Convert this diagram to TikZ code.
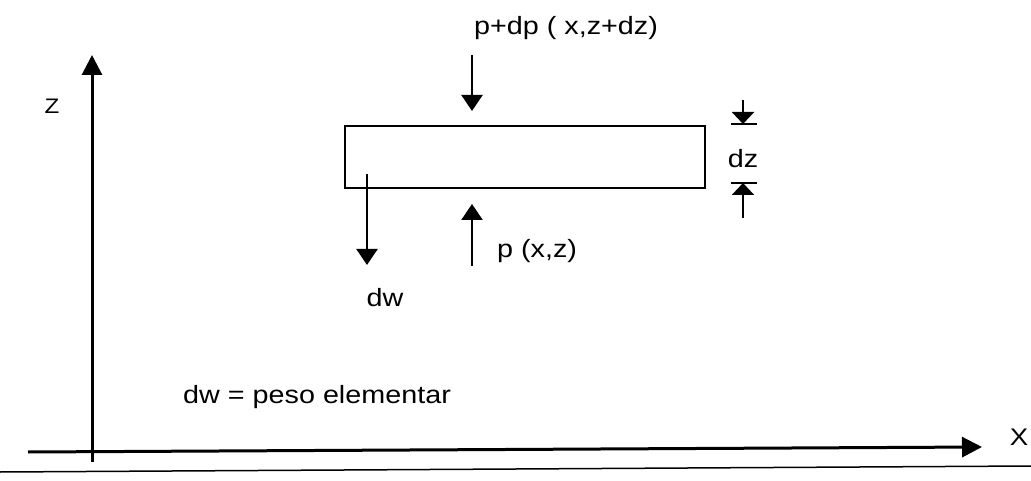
\documentclass[tikz,border=0pt]{standalone}
\usepackage{fontspec}
\setmainfont{Liberation Sans}[FakeStretch=1.15]
\usetikzlibrary{positioning, arrows.meta}

\begin{document}
\begin{tikzpicture}[
  x=1pt, y=-1pt,
  node distance=8pt and 10pt,
  axisLine/.style={line width=3pt, -{Triangle[length=20pt, width=20pt]}},
  forceArrow/.style={line width=2.2pt, -{Triangle[length=16pt, width=21pt]}},
  dzArrow/.style={line width=2.2pt, -{Triangle[length=12pt, width=22pt]}},
  dzTick/.style={line width=2.2pt},
  elemBox/.style={draw, line width=2.2pt, minimum width=360pt, minimum height=62pt, inner sep=0pt},
  txtLabel/.style={font=\fontsize{25}{30}\selectfont, inner sep=0pt}
]
\useasboundingbox (0,0) rectangle (1031,481);

% Axes
\coordinate (zBottom) at (92,462);
\coordinate (zTop) at (92,55);
\coordinate (xLeft) at (28,452);
\coordinate (xRight) at (982,447);
\draw[axisLine] (zBottom) -- (zTop);
\draw[axisLine] (xLeft) -- (xRight);
\node[txtLabel, font=\fontsize{21}{24}\selectfont] (zLab) at (52,106) {Z};
\node[txtLabel, font=\fontsize{24}{28}\selectfont] (xLab) at (1019,437) {X};

% page edge
\coordinate (edgeLeft) at (0,472);
\coordinate (edgeRight) at (1031,466);
\draw[line width=1.5pt] (edgeLeft) -- (edgeRight);

% Fluid element
\node[elemBox] (elem) at (525,157) {};

% Pressure on top face
\coordinate (pdpTail) at (472,55);
\coordinate (pdpTip) at (472,111);
\draw[forceArrow] (pdpTail) -- (pdpTip);
\node[txtLabel] (pdpLab) at (566,28) {p+dp ( x,z+dz)};

% Pressure on bottom face
\coordinate (pTail) at (472,266);
\coordinate (pTip) at (472,204);
\draw[forceArrow] (pTail) -- (pTip);
\node[txtLabel, anchor=west] (pLab) at (497,251) {p (x,z)};

% Weight
\coordinate (dwTail) at (367,174);
\coordinate (dwTip) at (367,265);
\draw[forceArrow] (dwTail) -- (dwTip);
\node[txtLabel] (dwLab) at (385,298) {dw};

% Thickness dz
\coordinate (dzTopTail) at (743,100);
\coordinate (dzTopTip) at (743,124);
\coordinate (dzBotTail) at (743,218);
\coordinate (dzBotTip) at (743,183);
\draw[dzArrow] (dzTopTail) -- (dzTopTip);
\draw[dzTick] (731,124) -- (757,124);
\draw[dzArrow] (dzBotTail) -- (dzBotTip);
\draw[dzTick] (731,183) -- (757,183);
\node[txtLabel] (dzLab) at (743,159) {dz};

% Legend
\node[txtLabel, anchor=west] (legend) at (183,397) {dw = peso elementar};

\end{tikzpicture}
\end{document}
